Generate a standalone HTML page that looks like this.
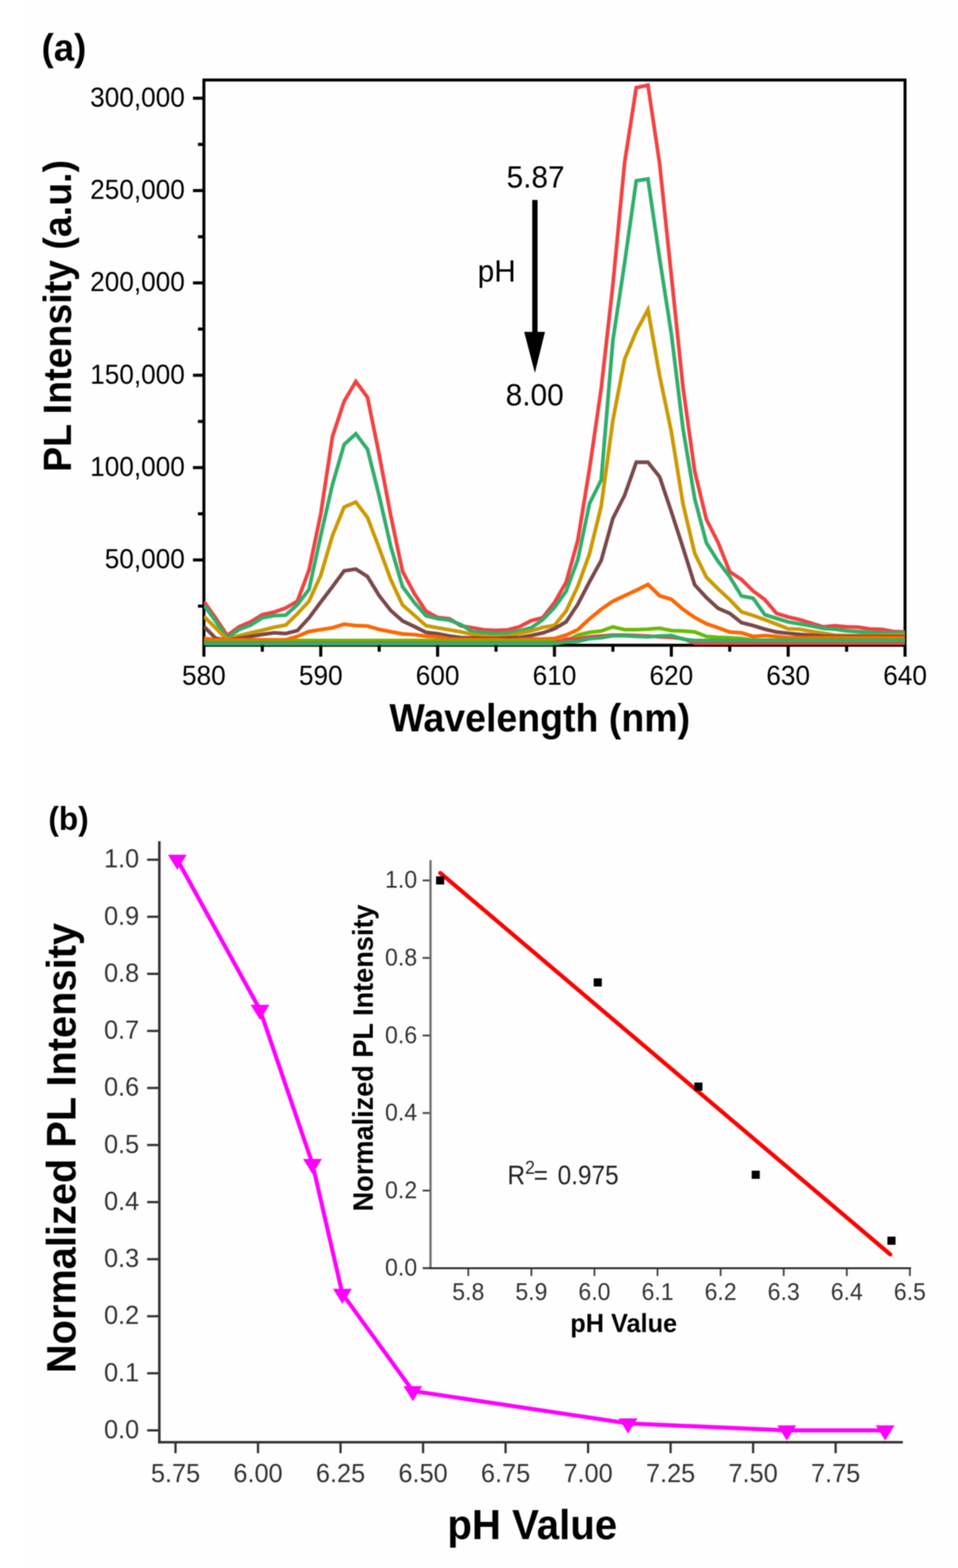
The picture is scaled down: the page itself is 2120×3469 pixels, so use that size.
<!DOCTYPE html>
<html><head><meta charset="utf-8"><title>PL intensity vs pH</title>
<style>
html,body{margin:0;padding:0;background:#ffffff;}
body{width:2120px;height:3469px;position:relative;overflow:hidden;}
.bg{position:absolute;left:57px;top:12px;right:0;bottom:0;background:#fefefe;}
svg{position:absolute;left:0;top:0;filter:blur(0.8px);}
text{font-family:"Liberation Sans",sans-serif;}
.b{font-weight:bold;}
</style></head><body>
<div class="bg"></div>
<svg width="2120" height="3469" viewBox="0 0 2120 3469">

<g id="panelA">
<text transform="translate(92,133.5) scale(1,1.04)" class="b" x="0" y="0" font-size="81">(a)</text>
<clipPath id="clipA"><rect x="451.2" y="177.0" width="1551.6" height="1252.5"/></clipPath>
<rect x="451.2" y="177.0" width="1551.6" height="1250.5" fill="none" stroke="#000" stroke-width="6.6"/>
<g clip-path="url(#clipA)" fill="none" stroke-width="8.2" stroke-linejoin="miter" stroke-miterlimit="4">
<polyline points="451.2,1331.0 477.1,1367.0 502.9,1406.0 528.8,1386.9 554.6,1375.7 580.5,1359.9 606.4,1354.3 632.2,1345.0 658.1,1330.0 683.9,1261.0 709.8,1137.0 735.7,966.0 761.5,888.0 787.4,844.0 813.2,879.0 839.1,1006.0 865.0,1142.0 890.8,1264.0 916.7,1313.0 942.5,1352.0 968.4,1366.0 994.3,1368.7 1020.1,1384.5 1046.0,1389.0 1071.8,1393.5 1097.7,1394.6 1123.6,1393.5 1149.4,1386.7 1175.3,1373.2 1201.1,1366.4 1227.0,1333.0 1252.9,1288.0 1278.7,1195.0 1304.6,1037.0 1330.4,860.0 1356.3,630.0 1382.2,360.0 1408.0,194.0 1433.9,188.5 1459.7,362.0 1485.6,609.0 1511.5,857.0 1537.3,1042.0 1563.2,1149.0 1589.0,1200.0 1614.9,1265.0 1640.8,1282.0 1666.6,1307.5 1692.5,1326.6 1718.3,1357.0 1744.2,1365.0 1770.1,1371.0 1795.9,1378.8 1821.8,1386.8 1847.6,1384.4 1873.5,1386.8 1899.4,1387.6 1925.2,1391.5 1951.1,1392.3 1976.9,1397.0 2002.8,1398.0" stroke="#f34141"/>
<polyline points="451.2,1338.5 477.1,1374.0 502.9,1412.0 528.8,1393.0 554.6,1383.0 580.5,1367.0 606.4,1362.0 632.2,1361.0 658.1,1337.6 683.9,1304.0 709.8,1185.0 735.7,1072.0 761.5,983.6 787.4,959.7 813.2,993.7 839.1,1097.0 865.0,1210.0 890.8,1298.0 916.7,1333.0 942.5,1362.0 968.4,1368.6 994.3,1372.0 1020.1,1382.0 1046.0,1398.0 1071.8,1399.0 1097.7,1401.4 1123.6,1400.0 1149.4,1395.8 1175.3,1389.0 1201.1,1371.0 1227.0,1344.0 1252.9,1308.0 1278.7,1238.0 1304.6,1114.0 1330.4,1062.0 1356.3,753.0 1382.2,582.0 1408.0,400.0 1433.9,396.0 1459.7,572.0 1485.6,738.0 1511.5,949.0 1537.3,1103.0 1563.2,1201.0 1589.0,1242.0 1614.9,1276.0 1640.8,1318.6 1666.6,1323.4 1692.5,1360.0 1718.3,1368.0 1744.2,1376.0 1770.1,1380.3 1795.9,1384.8 1821.8,1390.2 1847.6,1392.0 1873.5,1395.6 1899.4,1397.4 1925.2,1399.2 1951.1,1400.0 1976.9,1400.0 2002.8,1400.0" stroke="#30ae6c"/>
<polyline points="451.2,1363.6 477.1,1389.0 502.9,1416.0 528.8,1406.4 554.6,1400.0 580.5,1394.3 606.4,1387.8 632.2,1383.0 658.1,1358.0 683.9,1330.0 709.8,1273.0 735.7,1185.0 761.5,1122.0 787.4,1110.7 813.2,1144.7 839.1,1212.6 865.0,1283.0 890.8,1338.5 916.7,1361.0 942.5,1384.0 968.4,1389.0 994.3,1393.5 1020.1,1398.0 1046.0,1403.7 1071.8,1407.0 1097.7,1408.0 1123.6,1407.0 1149.4,1401.4 1175.3,1395.8 1201.1,1388.0 1227.0,1383.6 1252.9,1351.5 1278.7,1297.0 1304.6,1225.0 1330.4,1120.0 1356.3,930.0 1382.2,795.0 1408.0,733.0 1433.9,685.0 1459.7,831.0 1485.6,955.0 1511.5,1115.0 1537.3,1224.0 1563.2,1277.0 1589.0,1302.7 1614.9,1326.6 1640.8,1353.7 1666.6,1361.7 1692.5,1371.0 1718.3,1380.8 1744.2,1391.0 1770.1,1392.0 1795.9,1397.0 1821.8,1401.0 1847.6,1405.0 1873.5,1406.0 1899.4,1406.0 1925.2,1406.0 1951.1,1405.5 1976.9,1405.0 2002.8,1404.5" stroke="#cc9900"/>
<polyline points="451.2,1386.0 477.1,1412.0 502.9,1416.6 528.8,1412.0 554.6,1408.0 580.5,1403.6 606.4,1400.0 632.2,1401.7 658.1,1395.0 683.9,1367.0 709.8,1332.0 735.7,1298.0 761.5,1263.0 787.4,1259.0 813.2,1275.5 839.1,1318.0 865.0,1351.0 890.8,1373.7 916.7,1386.0 942.5,1399.0 968.4,1402.0 994.3,1407.0 1020.1,1410.5 1046.0,1411.6 1071.8,1412.7 1097.7,1412.7 1123.6,1411.6 1149.4,1410.5 1175.3,1406.0 1201.1,1400.3 1227.0,1391.0 1252.9,1375.6 1278.7,1337.0 1304.6,1287.0 1330.4,1240.0 1356.3,1147.0 1382.2,1096.0 1408.0,1022.7 1433.9,1022.7 1459.7,1055.0 1485.6,1132.0 1511.5,1212.0 1537.3,1294.0 1563.2,1322.0 1589.0,1345.7 1614.9,1357.0 1640.8,1377.6 1666.6,1384.0 1692.5,1392.0 1718.3,1398.3 1744.2,1401.0 1770.1,1403.6 1795.9,1405.4 1821.8,1407.0 1847.6,1408.0 1873.5,1408.0 1899.4,1408.0 1925.2,1408.0 1951.1,1408.0 1976.9,1408.0 2002.8,1408.0" stroke="#7a4848"/>
<polyline points="451.2,1412.0 477.1,1415.7 502.9,1415.7 528.8,1415.7 554.6,1415.7 580.5,1415.7 606.4,1415.7 632.2,1415.7 658.1,1408.0 683.9,1397.0 709.8,1393.0 735.7,1389.0 761.5,1381.0 787.4,1384.0 813.2,1385.0 839.1,1392.6 865.0,1397.6 890.8,1402.6 916.7,1404.0 942.5,1407.7 968.4,1409.0 994.3,1413.8 1020.1,1414.5 1046.0,1415.0 1071.8,1415.0 1097.7,1415.0 1123.6,1416.0 1149.4,1415.0 1175.3,1413.8 1201.1,1413.8 1227.0,1412.7 1252.9,1405.0 1278.7,1393.0 1304.6,1369.0 1330.4,1348.0 1356.3,1330.0 1382.2,1318.0 1408.0,1306.0 1433.9,1293.0 1459.7,1318.0 1485.6,1326.0 1511.5,1348.0 1537.3,1366.0 1563.2,1380.0 1589.0,1388.8 1614.9,1398.3 1640.8,1400.0 1666.6,1408.0 1692.5,1406.0 1718.3,1408.0 1744.2,1410.8 1770.1,1410.8 1795.9,1410.8 1821.8,1410.8 1847.6,1410.8 1873.5,1410.8 1899.4,1410.8 1925.2,1410.8 1951.1,1410.8 1976.9,1410.8 2002.8,1410.8" stroke="#ff6600"/>
<polyline points="451.2,1420.0 477.1,1420.0 502.9,1420.0 528.8,1420.0 554.6,1420.0 580.5,1420.0 606.4,1420.0 632.2,1420.0 658.1,1417.0 683.9,1417.0 709.8,1417.0 735.7,1417.0 761.5,1417.0 787.4,1417.0 813.2,1417.0 839.1,1417.0 865.0,1417.0 890.8,1417.0 916.7,1417.0 942.5,1417.0 968.4,1417.0 994.3,1418.0 1020.1,1418.0 1046.0,1418.0 1071.8,1418.0 1097.7,1418.0 1123.6,1418.0 1149.4,1418.0 1175.3,1418.0 1201.1,1418.0 1227.0,1418.0 1252.9,1418.0 1278.7,1405.0 1304.6,1399.0 1330.4,1396.0 1356.3,1387.0 1382.2,1393.0 1408.0,1393.0 1433.9,1392.0 1459.7,1390.0 1485.6,1395.0 1511.5,1396.0 1537.3,1398.0 1563.2,1408.0 1589.0,1410.0 1614.9,1411.0 1640.8,1412.7 1666.6,1416.0 1692.5,1416.0 1718.3,1416.0 1744.2,1416.0 1770.1,1416.0 1795.9,1416.0 1821.8,1416.0 1847.6,1416.0 1873.5,1416.0 1899.4,1416.0 1925.2,1416.0 1951.1,1416.0 1976.9,1416.0 2002.8,1416.0" stroke="#68bc00"/>
<polyline points="451.2,1422.5 477.1,1422.5 502.9,1422.5 528.8,1422.5 554.6,1422.5 580.5,1422.5 606.4,1422.5 632.2,1422.5 658.1,1422.5 683.9,1422.5 709.8,1422.5 735.7,1422.5 761.5,1422.5 787.4,1422.5 813.2,1422.5 839.1,1422.5 865.0,1422.5 890.8,1422.5 916.7,1422.5 942.5,1422.5 968.4,1422.5 994.3,1422.5 1020.1,1422.5 1046.0,1422.5 1071.8,1422.5 1097.7,1422.5 1123.6,1422.5 1149.4,1422.5 1175.3,1422.5 1201.1,1422.5 1227.0,1422.5 1252.9,1414.0 1278.7,1413.0 1304.6,1409.0 1330.4,1407.0 1356.3,1405.0 1382.2,1405.0 1408.0,1406.0 1433.9,1407.0 1459.7,1409.0 1485.6,1410.0 1511.5,1413.0 1537.3,1423.0 1563.2,1423.0 1589.0,1423.0 1614.9,1423.0 1640.8,1423.0 1666.6,1423.0 1692.5,1423.0 1718.3,1423.0 1744.2,1423.0 1770.1,1423.0 1795.9,1423.0 1821.8,1423.0 1847.6,1423.0 1873.5,1423.0 1899.4,1423.0 1925.2,1423.0 1951.1,1423.0 1976.9,1423.0 2002.8,1423.0" stroke="#f34141"/>
<polyline points="451.2,1424.4 477.1,1424.4 502.9,1424.4 528.8,1424.4 554.6,1424.4 580.5,1424.4 606.4,1424.4 632.2,1424.4 658.1,1424.4 683.9,1424.4 709.8,1424.4 735.7,1424.4 761.5,1424.4 787.4,1424.4 813.2,1424.4 839.1,1424.4 865.0,1424.4 890.8,1424.4 916.7,1424.4 942.5,1424.4 968.4,1424.4 994.3,1424.4 1020.1,1424.4 1046.0,1424.4 1071.8,1424.4 1097.7,1424.4 1123.6,1424.4 1149.4,1424.4 1175.3,1424.4 1201.1,1424.4 1227.0,1424.4 1252.9,1420.5 1278.7,1419.0 1304.6,1413.0 1330.4,1411.0 1356.3,1406.5 1382.2,1406.5 1408.0,1408.0 1433.9,1409.0 1459.7,1407.0 1485.6,1406.0 1511.5,1414.0 1537.3,1417.0 1563.2,1417.0 1589.0,1417.0 1614.9,1417.0 1640.8,1417.0 1666.6,1417.0 1692.5,1417.0 1718.3,1417.0 1744.2,1417.0 1770.1,1417.0 1795.9,1417.0 1821.8,1417.0 1847.6,1417.0 1873.5,1417.0 1899.4,1417.0 1925.2,1417.0 1951.1,1417.0 1976.9,1417.0 2002.8,1417.0" stroke="#30ae6c"/>
</g>
<line x1="427" y1="217.3" x2="451.2" y2="217.3" stroke="#000" stroke-width="6.8"/>
<text transform="translate(409,235.6) scale(1,1.04)" x="0" y="0" font-size="58" text-anchor="end">300,000</text>
<line x1="427" y1="421.6" x2="451.2" y2="421.6" stroke="#000" stroke-width="6.8"/>
<text transform="translate(409,439.9) scale(1,1.04)" x="0" y="0" font-size="58" text-anchor="end">250,000</text>
<line x1="427" y1="625.9" x2="451.2" y2="625.9" stroke="#000" stroke-width="6.8"/>
<text transform="translate(409,644.2) scale(1,1.04)" x="0" y="0" font-size="58" text-anchor="end">200,000</text>
<line x1="427" y1="830.2" x2="451.2" y2="830.2" stroke="#000" stroke-width="6.8"/>
<text transform="translate(409,848.5) scale(1,1.04)" x="0" y="0" font-size="58" text-anchor="end">150,000</text>
<line x1="427" y1="1034.5" x2="451.2" y2="1034.5" stroke="#000" stroke-width="6.8"/>
<text transform="translate(409,1052.8) scale(1,1.04)" x="0" y="0" font-size="58" text-anchor="end">100,000</text>
<line x1="427" y1="1238.8" x2="451.2" y2="1238.8" stroke="#000" stroke-width="6.8"/>
<text transform="translate(409,1257.1) scale(1,1.04)" x="0" y="0" font-size="58" text-anchor="end">50,000</text>
<line x1="438" y1="319.5" x2="451.2" y2="319.5" stroke="#000" stroke-width="6.8"/>
<line x1="438" y1="523.8" x2="451.2" y2="523.8" stroke="#000" stroke-width="6.8"/>
<line x1="438" y1="728.0" x2="451.2" y2="728.0" stroke="#000" stroke-width="6.8"/>
<line x1="438" y1="932.4" x2="451.2" y2="932.4" stroke="#000" stroke-width="6.8"/>
<line x1="438" y1="1136.7" x2="451.2" y2="1136.7" stroke="#000" stroke-width="6.8"/>
<line x1="438" y1="1341.0" x2="451.2" y2="1341.0" stroke="#000" stroke-width="6.8"/>
<line x1="451.2" y1="1427.5" x2="451.2" y2="1452.8" stroke="#000" stroke-width="6.8"/>
<text transform="translate(451.2,1515) scale(1,1.04)" x="0" y="0" font-size="58" text-anchor="middle">580</text>
<line x1="580.5" y1="1427.5" x2="580.5" y2="1441.8" stroke="#000" stroke-width="6.8"/>
<line x1="709.8" y1="1427.5" x2="709.8" y2="1452.8" stroke="#000" stroke-width="6.8"/>
<text transform="translate(709.8,1515) scale(1,1.04)" x="0" y="0" font-size="58" text-anchor="middle">590</text>
<line x1="839.1" y1="1427.5" x2="839.1" y2="1441.8" stroke="#000" stroke-width="6.8"/>
<line x1="968.4" y1="1427.5" x2="968.4" y2="1452.8" stroke="#000" stroke-width="6.8"/>
<text transform="translate(968.4,1515) scale(1,1.04)" x="0" y="0" font-size="58" text-anchor="middle">600</text>
<line x1="1097.7" y1="1427.5" x2="1097.7" y2="1441.8" stroke="#000" stroke-width="6.8"/>
<line x1="1227.0" y1="1427.5" x2="1227.0" y2="1452.8" stroke="#000" stroke-width="6.8"/>
<text transform="translate(1227.0,1515) scale(1,1.04)" x="0" y="0" font-size="58" text-anchor="middle">610</text>
<line x1="1356.3" y1="1427.5" x2="1356.3" y2="1441.8" stroke="#000" stroke-width="6.8"/>
<line x1="1485.6" y1="1427.5" x2="1485.6" y2="1452.8" stroke="#000" stroke-width="6.8"/>
<text transform="translate(1485.6,1515) scale(1,1.04)" x="0" y="0" font-size="58" text-anchor="middle">620</text>
<line x1="1614.9" y1="1427.5" x2="1614.9" y2="1441.8" stroke="#000" stroke-width="6.8"/>
<line x1="1744.2" y1="1427.5" x2="1744.2" y2="1452.8" stroke="#000" stroke-width="6.8"/>
<text transform="translate(1744.2,1515) scale(1,1.04)" x="0" y="0" font-size="58" text-anchor="middle">630</text>
<line x1="1873.5" y1="1427.5" x2="1873.5" y2="1441.8" stroke="#000" stroke-width="6.8"/>
<line x1="2002.8" y1="1427.5" x2="2002.8" y2="1452.8" stroke="#000" stroke-width="6.8"/>
<text transform="translate(2002.8,1515) scale(1,1.04)" x="0" y="0" font-size="58" text-anchor="middle">640</text>
<text transform="translate(1194.4,1617.6) scale(1,1.04)" class="b" x="0" y="0" font-size="83" text-anchor="middle">Wavelength (nm)</text>
<text class="b" transform="translate(157,699) rotate(-90) scale(1,1.04)" x="0" y="0" font-size="83" text-anchor="middle">PL Intensity (a.u.)</text>
<text transform="translate(1121,414.5) scale(1,1.04)" x="0" y="0" font-size="66">5.87</text>
<text transform="translate(1057,623) scale(1,1.04)" x="0" y="0" font-size="66">pH</text>
<text transform="translate(1119,896.5) scale(1,1.04)" x="0" y="0" font-size="66">8.00</text>
<rect x="1177.8" y="442.4" width="11.8" height="295" fill="#000"/>
<polygon points="1160,734.3 1206,734.3 1183.7,825" fill="#000"/>
</g>
<g id="panelB">
<text transform="translate(107,1835.8) scale(1,1.04)" class="b" x="0" y="0" font-size="70">(b)</text>
<line x1="352.6" y1="1861" x2="352.6" y2="3193.5" stroke="#333333" stroke-width="5.6"/>
<line x1="350" y1="3190.8" x2="1998" y2="3190.8" stroke="#333333" stroke-width="5.6"/>
<line x1="325.6" y1="3164.5" x2="351" y2="3164.5" stroke="#333333" stroke-width="5"/>
<text transform="translate(308,3181.9) scale(1,1.04)" x="0" y="0" font-size="56" text-anchor="end" fill="#333333">0.0</text>
<line x1="325.6" y1="3038.2" x2="351" y2="3038.2" stroke="#333333" stroke-width="5"/>
<text transform="translate(308,3055.7) scale(1,1.04)" x="0" y="0" font-size="56" text-anchor="end" fill="#333333">0.1</text>
<line x1="325.6" y1="2912.0" x2="351" y2="2912.0" stroke="#333333" stroke-width="5"/>
<text transform="translate(308,2929.4) scale(1,1.04)" x="0" y="0" font-size="56" text-anchor="end" fill="#333333">0.2</text>
<line x1="325.6" y1="2785.8" x2="351" y2="2785.8" stroke="#333333" stroke-width="5"/>
<text transform="translate(308,2803.2) scale(1,1.04)" x="0" y="0" font-size="56" text-anchor="end" fill="#333333">0.3</text>
<line x1="325.6" y1="2659.5" x2="351" y2="2659.5" stroke="#333333" stroke-width="5"/>
<text transform="translate(308,2676.9) scale(1,1.04)" x="0" y="0" font-size="56" text-anchor="end" fill="#333333">0.4</text>
<line x1="325.6" y1="2533.2" x2="351" y2="2533.2" stroke="#333333" stroke-width="5"/>
<text transform="translate(308,2550.7) scale(1,1.04)" x="0" y="0" font-size="56" text-anchor="end" fill="#333333">0.5</text>
<line x1="325.6" y1="2407.0" x2="351" y2="2407.0" stroke="#333333" stroke-width="5"/>
<text transform="translate(308,2424.4) scale(1,1.04)" x="0" y="0" font-size="56" text-anchor="end" fill="#333333">0.6</text>
<line x1="325.6" y1="2280.8" x2="351" y2="2280.8" stroke="#333333" stroke-width="5"/>
<text transform="translate(308,2298.2) scale(1,1.04)" x="0" y="0" font-size="56" text-anchor="end" fill="#333333">0.7</text>
<line x1="325.6" y1="2154.5" x2="351" y2="2154.5" stroke="#333333" stroke-width="5"/>
<text transform="translate(308,2171.9) scale(1,1.04)" x="0" y="0" font-size="56" text-anchor="end" fill="#333333">0.8</text>
<line x1="325.6" y1="2028.2" x2="351" y2="2028.2" stroke="#333333" stroke-width="5"/>
<text transform="translate(308,2045.7) scale(1,1.04)" x="0" y="0" font-size="56" text-anchor="end" fill="#333333">0.9</text>
<line x1="325.6" y1="1902.0" x2="351" y2="1902.0" stroke="#333333" stroke-width="5"/>
<text transform="translate(308,1919.4) scale(1,1.04)" x="0" y="0" font-size="56" text-anchor="end" fill="#333333">1.0</text>
<line x1="388.4" y1="3192" x2="388.4" y2="3215" stroke="#333333" stroke-width="5"/>
<text transform="translate(388.4,3279) scale(1,1.04)" x="0" y="0" font-size="56" text-anchor="middle" fill="#333333">5.75</text>
<line x1="571.0" y1="3192" x2="571.0" y2="3215" stroke="#333333" stroke-width="5"/>
<text transform="translate(571.0,3279) scale(1,1.04)" x="0" y="0" font-size="56" text-anchor="middle" fill="#333333">6.00</text>
<line x1="753.6" y1="3192" x2="753.6" y2="3215" stroke="#333333" stroke-width="5"/>
<text transform="translate(753.6,3279) scale(1,1.04)" x="0" y="0" font-size="56" text-anchor="middle" fill="#333333">6.25</text>
<line x1="936.2" y1="3192" x2="936.2" y2="3215" stroke="#333333" stroke-width="5"/>
<text transform="translate(936.2,3279) scale(1,1.04)" x="0" y="0" font-size="56" text-anchor="middle" fill="#333333">6.50</text>
<line x1="1118.8" y1="3192" x2="1118.8" y2="3215" stroke="#333333" stroke-width="5"/>
<text transform="translate(1118.8,3279) scale(1,1.04)" x="0" y="0" font-size="56" text-anchor="middle" fill="#333333">6.75</text>
<line x1="1301.4" y1="3192" x2="1301.4" y2="3215" stroke="#333333" stroke-width="5"/>
<text transform="translate(1301.4,3279) scale(1,1.04)" x="0" y="0" font-size="56" text-anchor="middle" fill="#333333">7.00</text>
<line x1="1484.0" y1="3192" x2="1484.0" y2="3215" stroke="#333333" stroke-width="5"/>
<text transform="translate(1484.0,3279) scale(1,1.04)" x="0" y="0" font-size="56" text-anchor="middle" fill="#333333">7.25</text>
<line x1="1666.6" y1="3192" x2="1666.6" y2="3215" stroke="#333333" stroke-width="5"/>
<text transform="translate(1666.6,3279) scale(1,1.04)" x="0" y="0" font-size="56" text-anchor="middle" fill="#333333">7.50</text>
<line x1="1849.2" y1="3192" x2="1849.2" y2="3215" stroke="#333333" stroke-width="5"/>
<text transform="translate(1849.2,3279) scale(1,1.04)" x="0" y="0" font-size="56" text-anchor="middle" fill="#333333">7.75</text>
<text transform="translate(990,3405.2) scale(1,1.04)" class="b" x="0" y="0" font-size="89">pH Value</text>
<text class="b" transform="translate(167,2540) rotate(-90) scale(1,1.04)" x="0" y="0" font-size="88" text-anchor="middle">Normalized PL Intensity</text>
<polyline fill="none" stroke="#ff00ff" stroke-width="9" points="392.4,1902.0 575.4,2234.0 691.5,2574.9 757.7,2862.3 913.6,3077.4 1389.8,3149.0 1741.1,3164.5 1958.8,3164.5"/>
<polygon fill="#ff00ff" points="371.6,1891.0 413.2,1891.0 392.4,1924.5"/>
<polygon fill="#ff00ff" points="554.6,2223.0 596.2,2223.0 575.4,2256.5"/>
<polygon fill="#ff00ff" points="670.7,2563.9 712.3,2563.9 691.5,2597.4"/>
<polygon fill="#ff00ff" points="736.9,2851.3 778.5,2851.3 757.7,2884.8"/>
<polygon fill="#ff00ff" points="892.8,3066.4 934.4,3066.4 913.6,3099.9"/>
<polygon fill="#ff00ff" points="1369.0,3138.0 1410.6,3138.0 1389.8,3171.5"/>
<polygon fill="#ff00ff" points="1720.3,3153.5 1761.9,3153.5 1741.1,3187.0"/>
<polygon fill="#ff00ff" points="1938.0,3153.5 1979.6,3153.5 1958.8,3187.0"/>
<line x1="952.7" y1="1903" x2="952.7" y2="2807.8" stroke="#707070" stroke-width="5"/>
<line x1="936" y1="2805.8" x2="2016" y2="2805.8" stroke="#222" stroke-width="4"/>
<line x1="935.2" y1="2805.5" x2="951" y2="2805.5" stroke="#444" stroke-width="4"/>
<text transform="translate(923,2822.1) scale(1,1.04)" x="0" y="0" font-size="51" text-anchor="end" fill="#333333">0.0</text>
<line x1="935.2" y1="2634.0" x2="951" y2="2634.0" stroke="#444" stroke-width="4"/>
<text transform="translate(923,2650.6) scale(1,1.04)" x="0" y="0" font-size="51" text-anchor="end" fill="#333333">0.2</text>
<line x1="935.2" y1="2462.4" x2="951" y2="2462.4" stroke="#444" stroke-width="4"/>
<text transform="translate(923,2479.0) scale(1,1.04)" x="0" y="0" font-size="51" text-anchor="end" fill="#333333">0.4</text>
<line x1="935.2" y1="2290.9" x2="951" y2="2290.9" stroke="#444" stroke-width="4"/>
<text transform="translate(923,2307.5) scale(1,1.04)" x="0" y="0" font-size="51" text-anchor="end" fill="#333333">0.6</text>
<line x1="935.2" y1="2119.3" x2="951" y2="2119.3" stroke="#444" stroke-width="4"/>
<text transform="translate(923,2135.9) scale(1,1.04)" x="0" y="0" font-size="51" text-anchor="end" fill="#333333">0.8</text>
<line x1="935.2" y1="1947.8" x2="951" y2="1947.8" stroke="#444" stroke-width="4"/>
<text transform="translate(923,1964.4) scale(1,1.04)" x="0" y="0" font-size="51" text-anchor="end" fill="#333333">1.0</text>
<line x1="1036.3" y1="2807" x2="1036.3" y2="2823" stroke="#444" stroke-width="4"/>
<text transform="translate(1036.3,2875.5) scale(1,1.04)" x="0" y="0" font-size="51" text-anchor="middle" fill="#333333">5.8</text>
<line x1="1175.9" y1="2807" x2="1175.9" y2="2823" stroke="#444" stroke-width="4"/>
<text transform="translate(1175.9,2875.5) scale(1,1.04)" x="0" y="0" font-size="51" text-anchor="middle" fill="#333333">5.9</text>
<line x1="1315.5" y1="2807" x2="1315.5" y2="2823" stroke="#444" stroke-width="4"/>
<text transform="translate(1315.5,2875.5) scale(1,1.04)" x="0" y="0" font-size="51" text-anchor="middle" fill="#333333">6.0</text>
<line x1="1455.1" y1="2807" x2="1455.1" y2="2823" stroke="#444" stroke-width="4"/>
<text transform="translate(1455.1,2875.5) scale(1,1.04)" x="0" y="0" font-size="51" text-anchor="middle" fill="#333333">6.1</text>
<line x1="1594.7" y1="2807" x2="1594.7" y2="2823" stroke="#444" stroke-width="4"/>
<text transform="translate(1594.7,2875.5) scale(1,1.04)" x="0" y="0" font-size="51" text-anchor="middle" fill="#333333">6.2</text>
<line x1="1734.3" y1="2807" x2="1734.3" y2="2823" stroke="#444" stroke-width="4"/>
<text transform="translate(1734.3,2875.5) scale(1,1.04)" x="0" y="0" font-size="51" text-anchor="middle" fill="#333333">6.3</text>
<line x1="1873.9" y1="2807" x2="1873.9" y2="2823" stroke="#444" stroke-width="4"/>
<text transform="translate(1873.9,2875.5) scale(1,1.04)" x="0" y="0" font-size="51" text-anchor="middle" fill="#333333">6.4</text>
<line x1="2013.5" y1="2807" x2="2013.5" y2="2823" stroke="#444" stroke-width="4"/>
<text transform="translate(2013.5,2875.5) scale(1,1.04)" x="0" y="0" font-size="51" text-anchor="middle" fill="#333333">6.5</text>
<text transform="translate(1262,2946.5) scale(1,1.04)" class="b" x="0" y="0" font-size="56">pH Value</text>
<text class="b" transform="translate(825,2340.5) rotate(-90) scale(1,1.04)" x="0" y="0" font-size="60" text-anchor="middle">Normalized PL Intensity</text>
<g transform="translate(0,2619.8) scale(1,1.09)" fill="#222"><text x="1123" y="0" font-size="54">R</text><text x="1162" y="-20.5" font-size="39">2</text><text x="1181" y="0" font-size="54">=</text><text x="1234" y="0" font-size="54">0.975</text></g>
<line x1="974.2" y1="1931.2" x2="1970.2" y2="2775.3" stroke="#ff0000" stroke-width="9" stroke-linecap="round"/>
<rect x="965.0" y="1938.8" width="18" height="18" fill="#000"/>
<rect x="1313.8" y="2164.5" width="18" height="18" fill="#000"/>
<rect x="1536.5" y="2395.0" width="18" height="18" fill="#000"/>
<rect x="1663.4" y="2590.0" width="18" height="18" fill="#000"/>
<rect x="1963.8" y="2735.9" width="18" height="18" fill="#000"/>
</g>
